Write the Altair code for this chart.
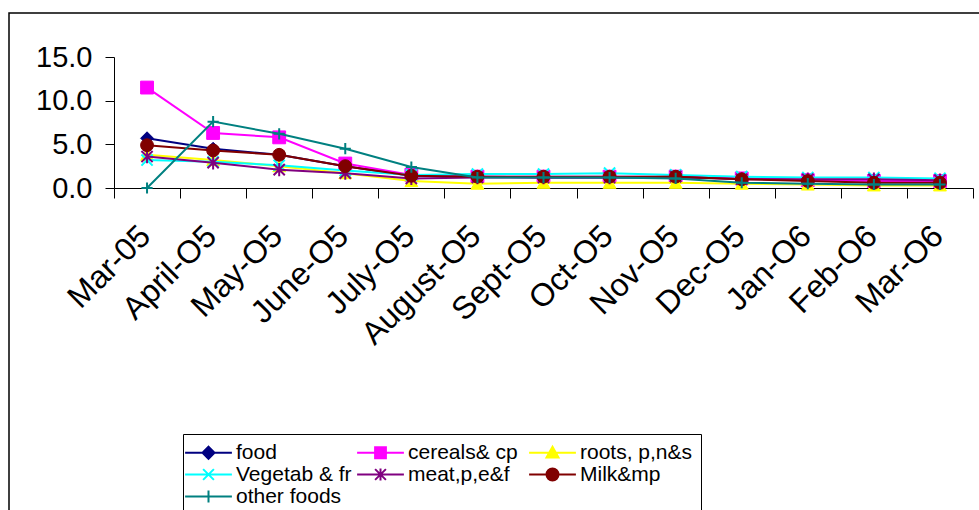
import altair as alt
import pandas as pd

months = ["Mar-05", "April-O5", "May-O5", "June-O5", "July-O5", "August-O5", "Sept-O5",
          "Oct-O5", "Nov-O5", "Dec-O5", "Jan-O6", "Feb-O6", "Mar-O6"]

series_names = ["food", "cereals& cp", "roots, p,n&s", "Vegetab & fr",
                "meat,p,e&f", "Milk&mp", "other foods"]

food = [5.7, 4.5, 3.8, 2.5, 1.4, 1.3, 1.2, 1.2, 1.2, 1.1, 0.9, 0.9, 0.8]
cereals = [11.5, 6.3, 5.8, 2.8, 1.5, 1.3, 1.3, 1.3, 1.3, 1.1, 0.9, 0.8, 0.8]
roots = [3.8, 3.2, 2.5, 1.7, 0.8, 0.5, 0.6, 0.6, 0.6, 0.5, 0.4, 0.3, 0.3]
vegetab = [3.2, 3.0, 2.6, 2.0, 1.5, 1.6, 1.6, 1.7, 1.5, 1.3, 1.2, 1.2, 1.1]
meat = [3.6, 2.9, 2.1, 1.7, 1.1, 1.2, 1.2, 1.2, 1.3, 1.0, 1.0, 1.0, 0.9]
milk = [4.9, 4.3, 3.8, 2.5, 1.4, 1.3, 1.3, 1.3, 1.3, 1.0, 0.8, 0.6, 0.6]
other = [0.0, 7.6, 6.2, 4.5, 2.4, 1.2, 1.2, 1.2, 1.1, 0.6, 0.5, 0.4, 0.4]

series_values = [food, cereals, roots, vegetab, meat, milk, other]

# styles
colors = ["#000080", "#FF00FF", "#FFFF00", "#00FFFF", "#800080", "#800000", "#008080"]
marker_shapes = ["diamond", "square", "triangle-up",
                 "M-1,-1L1,1M-1,1L1,-1",
                 "M-1,-1L1,1M-1,1L1,-1M0,-1.2V1.2",
                 "circle",
                 "M-1,0H1M0,-1V1"]
marker_filled = [True, True, True, False, False, True, False]
legend_shapes = [
    "M-3.9,0H3.9M0,-1L1,0L0,1L-1,0Z",
    "M-3.9,0H3.9M-0.9,-0.9H0.9V0.9H-0.9Z",
    "M-3.9,0H3.9M0,-1L1,0.8H-1Z",
    "M-3.9,0H3.9M-0.9,-0.9L0.9,0.9M-0.9,0.9L0.9,-0.9",
    "M-3.9,0H3.9M-0.9,-0.9L0.9,0.9M-0.9,0.9L0.9,-0.9M0,-1V1",
    "M-3.9,0H3.9M-1,0A1,1,0,1,1,1,0A1,1,0,1,1,-1,0Z",
    "M-3.9,0H3.9M0,-1V1",
]

rows = []
for name, vals in zip(series_names, series_values):
    for m, v in zip(months, vals):
        rows.append({"month": m, "series": name, "value": v})
df = pd.DataFrame(rows)

FONT = "Liberation Sans"

x_enc = alt.X("month:N", sort=months, title=None,
              scale=alt.Scale(type="band", paddingInner=0, paddingOuter=0, domain=months),
              axis=alt.Axis(tickBand="extent", labelAngle=-45, labelFontSize=32,
                            labelFont=FONT, labelColor="black", labelPadding=22,
                            labelOffset=-13,
                            tickSize=10, tickColor="black", domainColor="black",
                            labelOverlap=False, grid=False))
y_enc = alt.Y("value:Q", title=None,
              scale=alt.Scale(domain=[0, 15], nice=False, zero=True),
              axis=alt.Axis(values=[0, 5, 10, 15], format=".1f", labelFontSize=29,
                            labelFont=FONT, labelColor="black", tickSize=9,
                            labelPadding=13, tickColor="black", domainColor="black",
                            grid=False))

frame = alt.Chart(pd.DataFrame({"a": [0]})).mark_rect(
    fillOpacity=0, stroke="black", strokeWidth=1.5
).encode(x=alt.value(-105), x2=alt.value(880), y=alt.value(-44), y2=alt.value(480))

layers = [frame]
for i, name in enumerate(series_names):
    base = alt.Chart(df).transform_filter(alt.datum.series == name)
    line = base.mark_line(color=colors[i], strokeWidth=2).encode(x=x_enc, y=y_enc)
    if marker_filled[i]:
        pts = base.mark_point(shape=marker_shapes[i], size=165, filled=True,
                              fill=colors[i], stroke=colors[i], strokeWidth=1,
                              opacity=1).encode(x=x_enc, y=y_enc)
    else:
        pts = base.mark_point(shape=marker_shapes[i], size=125, filled=False,
                              stroke=colors[i], strokeWidth=2,
                              opacity=1).encode(x=x_enc, y=y_enc)
    layers += [line, pts]

leg = alt.Legend(orient="none", legendX=69, legendY=377, columns=3, title=None,
                 direction="horizontal", gridAlign="all",
                 strokeColor="black", fillColor="white", padding=8,
                 labelFontSize=21, labelFont=FONT, labelColor="black",
                 symbolSize=144, symbolStrokeWidth=2, labelOffset=17,
                 columnPadding=1, rowPadding=0, symbolOffset=7)

legend_layer = alt.Chart(df).transform_filter("false").mark_point(
    filled=True, strokeWidth=2, opacity=1
).encode(
    fill=alt.Fill("series:N", scale=alt.Scale(domain=series_names, range=colors), legend=leg),
    stroke=alt.Stroke("series:N", scale=alt.Scale(domain=series_names, range=colors), legend=leg),
    shape=alt.Shape("series:N", scale=alt.Scale(domain=series_names, range=legend_shapes), legend=leg),
)
layers.append(legend_layer)

chart = alt.layer(*layers).properties(
    width=859, height=131,
    autosize=alt.AutoSizeParams(type="none"),
    padding={"left": 114, "top": 57, "right": 6, "bottom": 322},
).configure_view(strokeWidth=0)

chart.save("out.html", embed_options={"renderer": "svg", "actions": False})
